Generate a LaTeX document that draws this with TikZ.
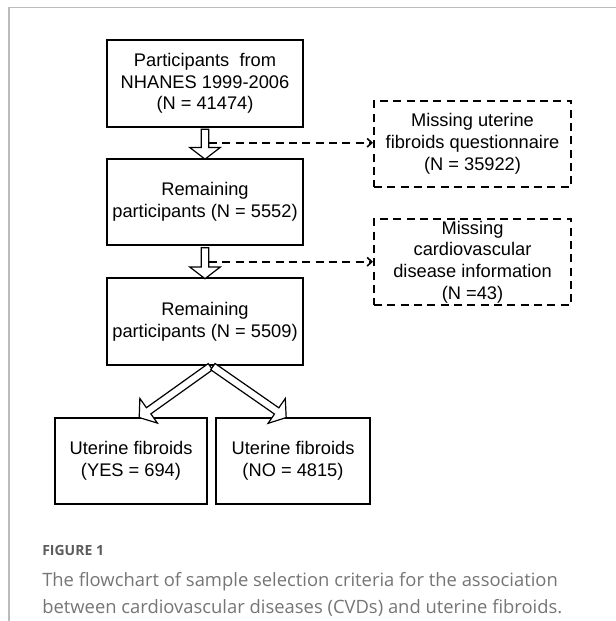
\documentclass[tikz,border=0pt]{standalone}
\usepackage{fontspec}
\setmainfont{Liberation Sans}
\newfontfamily\capfont{Open Sans}
\usetikzlibrary{arrows.meta,calc,shapes.arrows}

\definecolor{framegray}{HTML}{BBBBBB}
\definecolor{capgray}{HTML}{757575}
\definecolor{figgray}{HTML}{5C5C5C}

\tikzset{
  box/.style={draw, line width=1.4pt, minimum width=147pt, minimum height=65pt,
    inner xsep=2pt, inner ysep=0pt, align=center, font=\fontsize{13.7}{16.3}\selectfont},
  missbox/.style={box, line width=1.3pt, dash pattern=on 6pt off 4pt, minimum width=148pt, minimum height=64.5pt},
  hollowhead/.style={single arrow, draw, fill=white, line width=0.9pt, inner xsep=0pt, inner ysep=2.4pt,
    minimum width=22pt, single arrow head extend=8.5pt, single arrow tip angle=105},
  hollow/.style={to path={
    let \p1=(\tikztostart), \p2=(\tikztotarget),
        \n1={atan2(\y2-\y1,\x2-\x1)}, \n2={veclen(\x2-\x1,\y2-\y1)} in
    node[hollowhead, minimum height=\n2, rotate=\n1] at ($(\p1)!0.5!(\p2)$) {}}},
  side/.style={line width=1.2pt, dash pattern=on 6pt off 4pt, -{Straight Barb[length=3.5pt,width=6.5pt]}},
  captext/.style={anchor=base west, inner sep=0pt, font=\capfont\fontsize{13.8}{16}\selectfont, text=capgray}
}

\begin{document}
\begin{tikzpicture}[x=0.75pt,y=-0.75pt]
  \useasboundingbox (0,0) rectangle (616,621);

  % frame of the figure
  \draw[framegray, line width=1.1pt] (9,621) -- (9,7.5) -- (616,7.5);

  % main column
  \node[box] (all) at (205,83.5) {Participants~~from\\NHANES 1999-2006\\(N = 41474)};
  \node[box] (rem1) at (205,202) {Remaining\\participants (N = 5552)};
  \node[box] (rem2) at (205,321.5) {Remaining\\participants (N = 5509)};
  \node[box, minimum width=114pt] (yes) at (131,461) {Uterine fibroids\\(YES = 694)};
  \node[box, minimum width=115.5pt] (no) at (293,461) {Uterine fibroids\\(NO = 4815)};

  % excluded
  \node[missbox] (miss1) at (472.5,144) {Missing uterine\\fibroids questionnaire\\(N = 35922)};
  \node[missbox] (miss2) at (472.5,262) {Missing\\cardiovascular\\disease information\\(N =43)};

  \coordinate (m1) at ($(all.south)!0.5!(rem1.north)$);
  \coordinate (m2) at ($(rem1.south)!0.5!(rem2.north)$);
  \coordinate (top) at ([xshift=5pt]rem2.south);

  \draw[side] ([xshift=3pt]m1) -- (m1 -| miss1.west);
  \draw[side] ([xshift=3pt]m2) -- (m2 -| miss2.west);

  \draw (all.south) to[hollow] (rem1.north);
  \draw (rem1.south) to[hollow] (rem2.north);
  \draw (top) to[hollow] ([xshift=7pt]yes.north);
  \draw (top) to[hollow] ([xshift=-6pt]no.north);

  % caption
  \node[anchor=base west, inner sep=0pt, font=\capfont\bfseries\fontsize{10.5}{12}\selectfont, text=figgray]
    (fig) at (42,555) {FIGURE 1};
  \node[captext] (cap1) at (42,586) {The flowchart of sample selection criteria for the association};
  \node[captext] (cap2) at (42,613) {between cardiovascular diseases (CVDs) and uterine fibroids.};
\end{tikzpicture}
\end{document}
